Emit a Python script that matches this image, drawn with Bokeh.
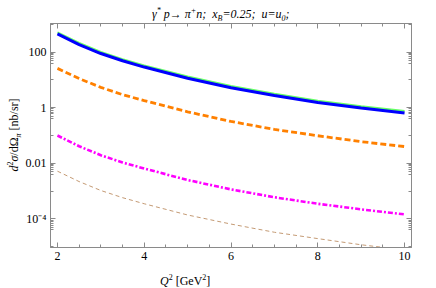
import numpy as np
from bokeh.plotting import figure
from bokeh.models import (Range1d, FixedTicker, LinearAxis, LogAxis, Div,
                          CustomJSTickFormatter)
from bokeh.layouts import column, row
from bokeh.embed import file_html
from bokeh.resources import INLINE

# ---- data ----
q2 = [2, 2.5, 3, 3.5, 4, 5, 6, 7, 8, 9, 10]
blue = [457, 186, 89, 49, 29, 11.5, 5.2, 2.75, 1.55, 0.98, 0.65]
green = [513, 214, 102, 56, 33, 13.2, 6.0, 3.2, 1.78, 1.12, 0.76]
orange = [26, 11.2, 5.4, 2.95, 1.8, 0.71, 0.32, 0.166, 0.098, 0.060, 0.040]
magenta = [0.10, 0.041, 0.0195, 0.0107, 0.0065, 0.0025, 0.00115, 6.0e-4, 3.5e-4, 2.2e-4, 1.45e-4]
brown = [0.0052, 0.0022, 0.00105, 5.8e-4, 3.5e-4, 1.38e-4, 6.5e-5, 3.3e-5, 1.95e-5, 1.17e-5, 7.6e-6]

x_ticks = [2, 4, 6, 8, 10]
y_ticks = [1e-4, 1e-2, 1, 100]

TICK_FONT = "Liberation Serif"
CSS_FONT = "'Liberation Serif', 'Times New Roman', serif"

TITLE_H, YLAB_W, XLAB_H = 20, 22, 24
FIG_W, FIG_H = 436 - YLAB_W, 288 - TITLE_H - XLAB_H
# frame on page: left 49, right 411, top 23, bottom 247
FL = 49 - YLAB_W
FR = 436 - 411
FT = 23 - TITLE_H
FB = (TITLE_H + FIG_H) - 247

p = figure(width=FIG_W, height=FIG_H, output_backend="svg", toolbar_location=None,
           y_axis_type="log", x_axis_type="linear",
           x_range=Range1d(1.84, 10.16), y_range=Range1d(10**-5.03, 10**3.03),
           min_border_left=FL, min_border_right=FR, min_border_top=FT,
           min_border_bottom=FB, x_axis_location=None, y_axis_location=None,
           margin=0)
p.grid.visible = False
p.outline_line_color = "#8a8a8a"
p.background_fill_color = "white"
p.border_fill_color = "white"

minor_x = [v for v in np.arange(1.5, 10.51, 0.5).tolist() if v not in x_ticks]
minor_y = []
for e in range(-6, 4):
    if e % 2 != 0:
        minor_y.append(10.0**e)
    else:
        for k in range(4, 10):
            minor_y.append(k * 10.0**(e - 1))

fmt_y = CustomJSTickFormatter(code="""
const m = {'-4':'10\u207b\u2074','-2':'0.01','0':'1','2':'100'};
const e = Math.round(Math.log10(tick));
return m[String(e)] || '';
""")
blank = CustomJSTickFormatter(code="return ''")

def style(ax):
    ax.axis_line_color = "#8a8a8a"
    ax.major_tick_line_color = "#8a8a8a"
    ax.minor_tick_line_color = "#8a8a8a"
    ax.major_tick_out = 0
    ax.major_tick_in = 5
    ax.minor_tick_out = 0
    ax.minor_tick_in = 3
    ax.major_label_text_font = TICK_FONT
    ax.major_label_text_font_size = "12px"
    ax.major_label_text_color = "black"
    ax.major_label_standoff = 4

xb = LinearAxis(ticker=FixedTicker(ticks=x_ticks, minor_ticks=minor_x))
xt = LinearAxis(ticker=FixedTicker(ticks=x_ticks, minor_ticks=minor_x), formatter=blank)
yl = LogAxis(ticker=FixedTicker(ticks=y_ticks, minor_ticks=minor_y), formatter=fmt_y)
yr = LogAxis(ticker=FixedTicker(ticks=y_ticks, minor_ticks=minor_y), formatter=blank)
for a in (xb, xt, yl, yr):
    style(a)
for a in (xt, yr):
    a.major_label_standoff = 0
    a.major_label_text_font_size = "1px"
p.add_layout(xb, "below")
p.add_layout(xt, "above")
p.add_layout(yl, "left")
p.add_layout(yr, "right")

# ---- curves ----
p.line(q2, brown, line_color="#c49a74", line_width=1, line_dash="4 3")
p.line(q2, magenta, line_color="#ff00ff", line_width=2.6, line_dash="5 2 2 2")
p.line(q2, orange, line_color="#ff8000", line_width=2.8, line_dash="6 3")
p.line(q2, green, line_color="#66ff66", line_width=2)
p.line(q2, blue, line_color="#0000ff", line_width=3)

# ---- texts ----
title_html = (
    f'<div style="font-family:{CSS_FONT};font-style:italic;font-size:12px;'
    f'line-height:{TITLE_H}px;white-space:nowrap;padding-left:152px;padding-top:1px">'
    '\u03b3<sup style="font-size:8px">*</sup>&nbsp;p\u2192 \u03c0<sup style="font-size:8px">+</sup>n;&nbsp;&nbsp;'
    'x<sub style="font-size:8px">B</sub>=0.25;&nbsp;&nbsp;u=u<sub style="font-size:8px">0</sub>;</div>'
)
title = Div(text=title_html, width=436, height=TITLE_H, margin=0)

ylab_html = (
    f'<div style="width:{FIG_H - FB - FT + 40}px;height:{YLAB_W}px;transform-origin:0 0;'
    f'transform:translate(0px,{FIG_H - FB + 20}px) rotate(-90deg);text-align:center;'
    f'line-height:{YLAB_W}px;white-space:nowrap;font-family:{CSS_FONT};font-size:12px">'
    '<i>d</i><sup style="font-size:8px">2</sup><i>\u03c3</i>/d\u03a9<sub style="font-size:8px"><i>\u03c0</i></sub> [nb/sr]</div>'
)
ylab = Div(text=ylab_html, width=YLAB_W, height=FIG_H, margin=0)

xlab_html = (
    f'<div style="font-family:{CSS_FONT};font-size:12px;line-height:{XLAB_H}px;'
    f'white-space:nowrap;padding-left:160px;position:relative;top:2px">'
    '<i>Q</i><sup style="font-size:8px">2</sup> [GeV<sup style="font-size:8px">2</sup>]</div>'
)
xlab = Div(text=xlab_html, width=436, height=XLAB_H, margin=0)

layout = column(title, row(ylab, p, spacing=0, margin=0), xlab, spacing=0, margin=0)

open("out.html", "w").write(file_html(layout, INLINE))
